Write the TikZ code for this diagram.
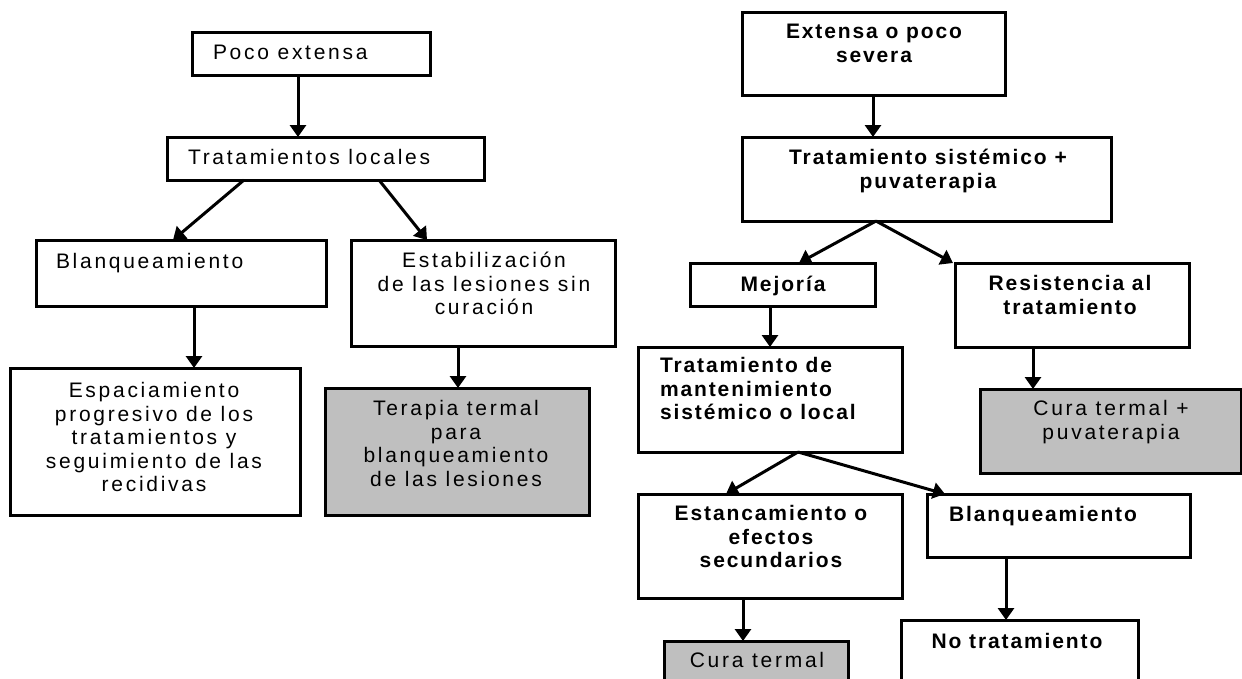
\documentclass[tikz,border=0pt]{standalone}
\usepackage{fontspec}
\setmainfont{Liberation Sans}
\newfontfamily\regf[LetterSpace=13]{Liberation Sans}
\newfontfamily\boldf[LetterSpace=9]{Liberation Sans Bold}
\usetikzlibrary{arrows.meta,fit}
\tikzset{
  box/.style={draw=black, line width=3pt, inner sep=0pt, outer sep=0pt, fill=white},
  gbox/.style={box, fill=gray!50},
  txt/.style={inner sep=0pt, outer sep=0pt, font=\regf\fontsize{21}{23.5}\selectfont, execute at begin node=\strut},
  btxt/.style={txt, font=\boldf\fontsize{21}{23.5}\selectfont},
  arr/.style={line width=3pt, -{Triangle[width=16pt,length=12pt]}},
}
\begin{document}
\begin{tikzpicture}[x=1pt,y=-1pt]
\useasboundingbox (0,0) rectangle (1242,678);
\clip (0,0) rectangle (1242,678);
\fill[white] (0,0) rectangle (1242,678);
% left boxes
\node[box, fit={(192,32)(430,75)}] (poco) {};
\node[box, fit={(167,137)(484,180)}] (tl) {};
\node[box, fit={(36,240)(326,306)}] (blq) {};
\node[box, fit={(351,240)(615,346)}] (est) {};
\node[box, fit={(10,368)(300,515)}] (esp) {};
\node[gbox, fit={(325,388)(589,515)}] (ter) {};
% right boxes
\node[box, fit={(742,12)(1005,95)}] (ext) {};
\node[box, fit={(742,137)(1111,221)}] (sis) {};
\node[box, fit={(690,263)(875,306)}] (mej) {};
\node[box, fit={(955,263)(1189,347)}] (res) {};
\node[box, fit={(638,347)(902,452)}] (man) {};
\node[gbox, fit={(980,389)(1241,473)}] (cur1) {};
\node[box, fit={(638,494)(902,598)}] (estc) {};
\node[box, fit={(927,494)(1190,557)}] (blq2) {};
\node[gbox, fit={(664,641)(848,700)}] (cur2) {};
\node[box, fit={(901,620)(1138,700)}] (notr) {};
% texts left
\node[txt, anchor=north west] (poco-t) at (213,43.5) {Poco extensa};
\node[txt, anchor=north west] (tl-t) at (188,148.5) {Tratamientos locales};
\node[txt, anchor=north west] (blq-t) at (56,252.5) {Blanqueamiento};
\node[txt, anchor=north, align=center] (est-t) at (484,252.5) {Estabilización\\de las lesiones sin\\curación};
\node[txt, anchor=north, align=center] (esp-t) at (154,382.5) {Espaciamiento\\progresivo de los\\tratamientos y\\seguimiento de las\\recidivas};
\node[txt, anchor=north, align=center] (ter-t) at (456,400.5) {Terapia termal\\para\\blanqueamiento\\de las lesiones};
% texts right
\node[btxt, anchor=north, align=center] (ext-t) at (874,24.5) {Extensa o poco\\severa};
\node[btxt, anchor=north, align=center] (sis-t) at (928,149.5) {Tratamiento sistémico +\\puvaterapia};
\node[btxt, anchor=north] (mej-t) at (783,275.5) {Mejoría};
\node[btxt, anchor=north, align=center] (res-t) at (1070,275.5) {Resistencia al\\tratamiento};
\node[btxt, anchor=north west, align=left] (man-t) at (660,357.5) {Tratamiento de\\mantenimiento\\sistémico o local};
\node[txt, anchor=north, align=center] (cur1-t) at (1111,400.5) {Cura termal +\\puvaterapia};
\node[btxt, anchor=north, align=center] (estc-t) at (771,505.5) {Estancamiento o\\efectos\\secundarios};
\node[btxt, anchor=north west] (blq2-t) at (949,505.5) {Blanqueamiento};
\node[txt, anchor=north] (cur2-t) at (757,651.5) {Cura termal};
\node[btxt, anchor=north] (notr-t) at (1017,632.5) {No tratamiento};
% arrows left
\draw[arr] (poco.south -| 298,0) -- (tl.north -| 298,0);
\draw[arr] (tl.south -| 244,0) -- (blq.north -| 173,0);
\draw[arr] (tl.south -| 379,0) -- (est.north -| 427,0);
\draw[arr] (blq.south -| 194,0) -- (esp.north -| 194,0);
\draw[arr] (est.south -| 458,0) -- (ter.north -| 458,0);
% arrows right
\draw[arr] (ext.south -| 873,0) -- (sis.north -| 873,0);
\draw[arr] (sis.south -| 876,0) -- (mej.north -| 799,0);
\draw[arr] (sis.south -| 876,0) -- (res.north -| 953,0);
\draw[arr] (mej.south -| 770,0) -- (man.north -| 770,0);
\draw[arr] (res.south -| 1033,0) -- (cur1.north -| 1033,0);
\draw[arr] (man.south -| 798,0) -- (estc.north -| 726,0);
\draw[arr] (man.south -| 798,0) -- (blq2.north -| 945,0);
\draw[arr] (estc.south -| 743,0) -- (cur2.north -| 743,0);
\draw[arr] (blq2.south -| 1006,0) -- (notr.north -| 1006,0);
\end{tikzpicture}
\end{document}
